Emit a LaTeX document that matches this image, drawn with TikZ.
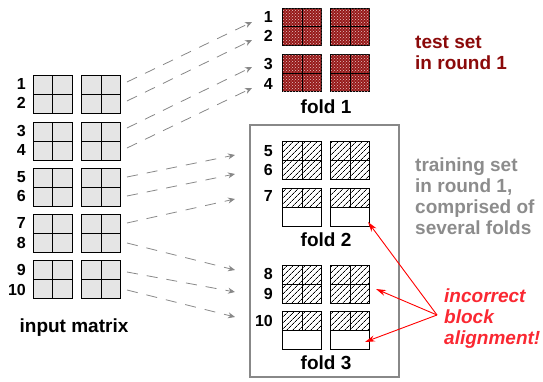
\documentclass[tikz,border=0pt]{standalone}
\usepackage{fontspec}
\setmainfont{Liberation Sans}
\usetikzlibrary{arrows.meta,patterns,patterns.meta}
\definecolor{testred}{RGB}{139,10,10}
\definecolor{testfill}{RGB}{150,25,25}
\definecolor{boxgray}{RGB}{136,136,136}
\definecolor{txtgray}{RGB}{140,140,140}
\definecolor{alertred}{RGB}{250,40,50}
\newcommand\crossit[1]{\draw[line width=0.9pt] (#1.north)--(#1.south) (#1.west)--(#1.east);}
\newcommand\vlineit[1]{\draw[line width=0.9pt] (#1.north)--(#1.south);}
\begin{document}
\begin{tikzpicture}[x=1pt,y=-1pt,
  cell/.style={draw=black, line width=0.9pt, inner sep=0pt, outer sep=0pt, minimum width=39pt, minimum height=38pt},
  inblk/.style={cell, fill=gray!20},
  testblk/.style={cell, minimum height=37pt, fill=testfill, postaction={pattern=crosshatch dots, pattern color=white!75!testfill}},
  hatblk/.style={cell, fill=white, postaction={pattern={Lines[angle=45,distance=4pt,line width=0.75pt]}}},
  halfhat/.style={hatblk, minimum height=19pt},
  halfwhite/.style={cell, minimum height=19pt, fill=white},
  num/.style={font=\bfseries\fontsize{16}{18}\selectfont, anchor=east, inner sep=0pt},
  foldlbl/.style={font=\bfseries\fontsize{19}{22}\selectfont, inner sep=0pt},
  dasharrow/.style={draw=boxgray, line width=0.8pt, dash pattern=on 11pt off 9pt, -{Stealth[length=7pt,width=6pt,fill=boxgray]}},
  redarrow/.style={draw=red, line width=0.9pt, -{Stealth[length=10pt,width=6pt]}},
  sidetxt/.style={font=\bfseries\fontsize{19}{22}\selectfont, anchor=base west, inner sep=0pt}
]
\useasboundingbox (0,0) rectangle (543,381);

% input matrix
\foreach \i/\t in {1/75,2/122,3/168,4/214,5/260}{
  \node[inblk] (inL\i) at (52.5,\t+19) {};
  \node[inblk] (inR\i) at (101,\t+19) {};
  \crossit{inL\i}
  \crossit{inR\i}
}
\foreach \k/\y in {1/84,2/103,3/131,4/150,5/177,6/196,7/223,8/243,9/270,10/290}{
  \node[num] (n\k) at (26,\y) {\k};
}
\node[foldlbl] (inlbl) at (74,328) {input matrix};

% fold 1 (test set)
\foreach \i/\c in {1/26.5,2/73}{
  \node[testblk] (fAL\i) at (302,\c) {};
  \node[testblk] (fAR\i) at (350,\c) {};
  \crossit{fAL\i}
  \crossit{fAR\i}
}
\node[num] (f1n1) at (273,17) {1};
\node[num] (f1n2) at (273,36) {2};
\node[num] (f1n3) at (273,64) {3};
\node[num] (f1n4) at (273,84) {4};
\node[foldlbl] (fold1) at (326,107) {fold 1};

% training box
\node[draw=boxgray, line width=2pt, inner sep=0pt, minimum width=149pt, minimum height=252pt] (trbox) at (324.5,251) {};

% fold 2
\node[hatblk] (fBL) at (302,160) {};
\node[hatblk] (fBR) at (350,160) {};
\crossit{fBL}
\crossit{fBR}
\node[halfhat] (fBLh) at (302,197.5) {};
\node[halfhat] (fBRh) at (350,197.5) {};
\vlineit{fBLh}
\vlineit{fBRh}
\node[halfwhite] (fBLw) at (302,216.5) {};
\node[halfwhite] (fBRw) at (350,216.5) {};
\node[num] (f2n5) at (273,151) {5};
\node[num] (f2n6) at (273,170) {6};
\node[num] (f2n7) at (273,196) {7};
\node[foldlbl] (fold2) at (326,240) {fold 2};

% fold 3
\node[hatblk] (fCL) at (302,284) {};
\node[hatblk] (fCR) at (350,284) {};
\crossit{fCL}
\crossit{fCR}
\node[halfhat] (fCLh) at (302,320.5) {};
\node[halfhat] (fCRh) at (350,320.5) {};
\vlineit{fCLh}
\vlineit{fCRh}
\node[halfwhite] (fCLw) at (302,339.5) {};
\node[halfwhite] (fCRw) at (350,339.5) {};
\node[num] (f3n8) at (273,274) {8};
\node[num] (f3n9) at (273,294) {9};
\node[num] (f3n10) at (273,321) {10};
\node[foldlbl] (fold3) at (326,363) {fold 3};

% dashed arrows
\foreach \k/\sy/\ex/\ey in {1/82/252/22,2/101/252/40,3/128/252/67,4/148/252/88,5/177/235/155,6/196/235/174,7/223/235/199,8/243/235/270,9/272/235/292,10/290/235/317}{
  \coordinate (s\k) at (127,\sy);
  \coordinate (e\k) at (\ex,\ey);
  \draw[dasharrow] (s\k) -- (e\k);
}

% side texts
\node[sidetxt, text=testred] (testtxtA) at (415,48) {test set};
\node[sidetxt, text=testred] (testtxtB) at (415,69) {in round 1};
\node[sidetxt, text=txtgray] (traintxtA) at (415,171) {training set};
\node[sidetxt, text=txtgray] (traintxtB) at (415,192) {in round 1,};
\node[sidetxt, text=txtgray] (traintxtC) at (415,213) {comprised of};
\node[sidetxt, text=txtgray] (traintxtD) at (415,234) {several folds};
\node[sidetxt, text=alertred, font=\bfseries\itshape\fontsize{19}{22}\selectfont] (alertA) at (444,302) {incorrect};
\node[sidetxt, text=alertred, font=\bfseries\itshape\fontsize{19}{22}\selectfont] (alertB) at (444,323) {block};
\node[sidetxt, text=alertred, font=\bfseries\itshape\fontsize{19}{22}\selectfont] (alertC) at (444,344) {alignment!};

% red arrows
\coordinate (rsrc) at (437,315);
\coordinate (rt1) at (368,222);
\coordinate (rt2) at (376,289);
\coordinate (rt3) at (365,342);
\draw[redarrow] (rsrc) -- (rt1);
\draw[redarrow] (rsrc) -- (rt2);
\draw[redarrow] (rsrc) -- (rt3);
\end{tikzpicture}
\end{document}
